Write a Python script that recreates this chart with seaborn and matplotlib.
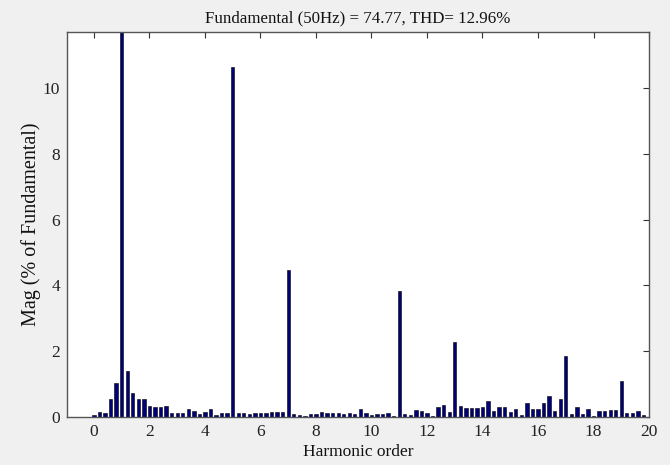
import numpy as np
import pandas as pd
import matplotlib
matplotlib.use("Agg")
import matplotlib.pyplot as plt
import seaborn as sns

# Harmonic order bins (10 Hz resolution / 50 Hz fundamental)
harmonic_order = [round(i * 0.2, 1) for i in range(100)]
magnitude = [
    0.05, 0.17, 0.11, 0.54, 1.05, 100.0, 1.40, 0.72, 0.54, 0.54,   # 0.0 - 1.8
    0.35, 0.31, 0.32, 0.35, 0.13, 0.11, 0.11, 0.26, 0.18, 0.09,    # 2.0 - 3.8
    0.15, 0.24, 0.06, 0.12, 0.12, 10.65, 0.13, 0.13, 0.08, 0.11,   # 4.0 - 5.8
    0.13, 0.11, 0.17, 0.14, 0.14, 4.48, 0.08, 0.05, 0.03, 0.08,    # 6.0 - 7.8
    0.10, 0.16, 0.13, 0.13, 0.13, 0.08, 0.13, 0.09, 0.26, 0.13,    # 8.0 - 9.8
    0.05, 0.10, 0.10, 0.13, 0.03, 3.82, 0.10, 0.05, 0.21, 0.18,    # 10.0 - 11.8
    0.13, 0.03, 0.32, 0.38, 0.17, 2.27, 0.34, 0.27, 0.27, 0.27,    # 12.0 - 13.8
    0.30, 0.48, 0.18, 0.32, 0.30, 0.16, 0.24, 0.07, 0.42, 0.25,    # 14.0 - 15.8
    0.25, 0.43, 0.64, 0.18, 0.54, 1.85, 0.08, 0.32, 0.09, 0.26,    # 16.0 - 17.8
    0.03, 0.18, 0.18, 0.21, 0.21, 1.11, 0.11, 0.11, 0.18, 0.06,    # 18.0 - 19.8
]
x_ticks = list(range(0, 21, 2))
y_ticks = list(range(0, 11, 2))
title_text = "Fundamental (50Hz) = 74.77, THD= 12.96%"

df = pd.DataFrame({"order": harmonic_order, "mag": magnitude})

sns.set_style("white")
plt.rcParams["font.family"] = ["Liberation Serif", "DejaVu Serif"]

fig = plt.figure(figsize=(6.7, 4.65), dpi=100, facecolor="#f0f0f0")
ax = fig.add_axes([0.100, 0.103, 0.8687, 0.828])
ax.set_facecolor("white")

sns.barplot(data=df, x="order", y="mag", native_scale=True, width=0.6,
            color="#000078", saturation=1, edgecolor="black", linewidth=0.4,
            ax=ax)

ax.set_xlim(-0.97, 20)
ax.set_ylim(0, 11.7)
ax.set_xticks(x_ticks)
ax.set_yticks(y_ticks)
ax.set_xticklabels([str(t) for t in x_ticks])
ax.set_yticklabels([str(t) for t in y_ticks])
ax.tick_params(axis="both", direction="in", length=4, width=0.8,
               labelsize=12.5, top=True, right=True, colors="#333333",
               labelcolor="#222222", pad=5)
for s in ax.spines.values():
    s.set_visible(True)
    s.set_color("#555555")
    s.set_linewidth(1.0)

ax.set_title(title_text, fontsize=12.2, color="#111111", pad=7)
ax.set_xlabel("Harmonic order", fontsize=12.5, color="#111111", labelpad=3)
ax.set_ylabel("Mag (% of Fundamental)", fontsize=14.5, color="#111111", labelpad=1)

fig.savefig("out.png", dpi=100, facecolor=fig.get_facecolor())
